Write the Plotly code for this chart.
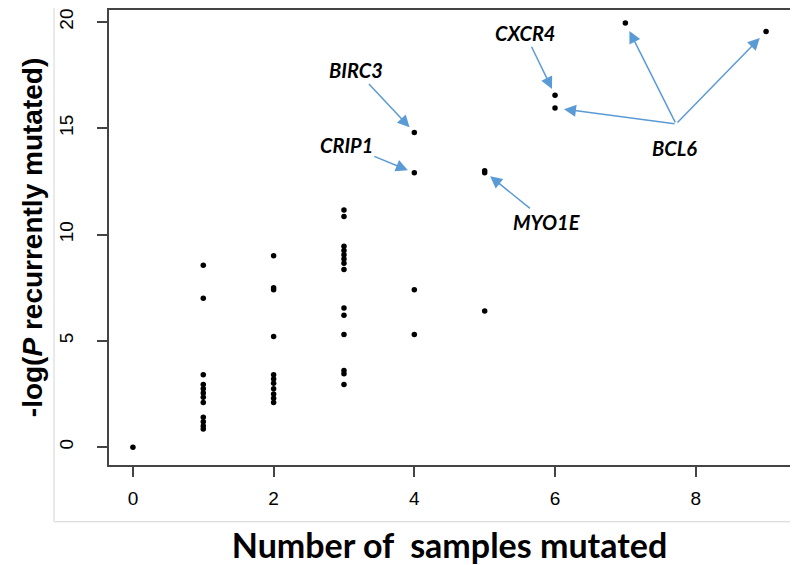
import plotly.graph_objects as go

# Data
samples_mutated = [0,
                   1, 1, 1, 1, 1, 1, 1, 1, 1, 1, 1, 1,
                   2, 2, 2, 2, 2, 2, 2, 2, 2, 2, 2,
                   3, 3, 3, 3, 3, 3, 3, 3, 3, 3, 3, 3, 3, 3,
                   4, 4, 4, 4,
                   5, 5, 5,
                   6, 6,
                   7,
                   9]
neg_log_p = [0.0,
             8.55, 7.0, 3.4, 2.95, 2.75, 2.55, 2.35, 2.1, 1.4, 1.2, 1.0, 0.85,
             9.0, 7.5, 7.4, 5.2, 3.4, 3.2, 3.0, 2.75, 2.5, 2.3, 2.1,
             11.15, 10.85, 9.45, 9.25, 9.05, 8.85, 8.65, 8.35, 6.55, 6.2, 5.3, 3.6, 3.45, 2.95,
             14.8, 12.9, 7.4, 5.3,
             13.0, 12.9, 6.4,
             16.55, 15.95,
             19.95,
             19.55]

x_ticks = [0, 2, 4, 6, 8]
y_ticks = [0, 5, 10, 15, 20]

# labelled genes: (name, x, y)
labels = [("BIRC3", 4, 14.8), ("CRIP1", 4, 12.9), ("MYO1E", 5, 12.95), ("CXCR4", 6, 16.55)]
bcl6_points = [(6, 15.95), (7, 19.95), (9, 19.55)]

ARROW = "#5B9BD5"

fig = go.Figure()
fig.add_trace(go.Scatter(
    x=samples_mutated, y=neg_log_p, mode="markers",
    marker=dict(color="black", size=5.5),
    hoverinfo="x+y", showlegend=False))

label_font = dict(family="Lato, Carlito, Arial", size=20, color="black")
offsets = {"BIRC3": (-58, -62), "CRIP1": (-68, -28), "MYO1E": (62, 50), "CXCR4": (-30, -62)}
for name, gx, gy in labels:
    ax, ay = offsets[name]
    fig.add_annotation(x=gx, y=gy, text=f"<b><i>{name}</i></b>", font=label_font,
                       showarrow=True, arrowhead=2, arrowsize=1.6, arrowwidth=1.5,
                       arrowcolor=ARROW, standoff=7, ax=ax, ay=ay)

bcl6_tail = (7.72, 15.2)
for gx, gy in bcl6_points:
    fig.add_annotation(x=gx, y=gy, text="", showarrow=True, arrowhead=2, arrowsize=1.6,
                       arrowwidth=1.5, arrowcolor=ARROW, standoff=9,
                       axref="x", ayref="y", ax=bcl6_tail[0], ay=bcl6_tail[1])
fig.add_annotation(x=7.7, y=14.05, text="<b><i>BCL6</i></b>", font=label_font, showarrow=False)

# light frame of the original screenshot (page px -> paper)
PW, PH = 681, 457
fig.add_shape(type="rect", xref="paper", yref="paper",
              x0=(54 - 109) / PW, x1=(797 - 109) / PW,
              y0=(465 - 522) / PH, y1=(465 - 8) / PH + 0.02,
              line=dict(color="#d4d4d4", width=1), fillcolor="rgba(0,0,0,0)", layer="below")

axis_common = dict(showgrid=False, zeroline=False, showline=True, linecolor="#444444",
                   linewidth=2, mirror=True, ticks="outside", ticklen=10, tickwidth=1.5,
                   tickcolor="#444444",
                   tickfont=dict(family="Liberation Sans, Arial", size=19, color="black"))

fig.update_layout(
    width=798, height=565,
    margin=dict(l=101, r=16, t=0, b=108),
    paper_bgcolor="white", plot_bgcolor="white",
    xaxis=dict(range=[-0.34, 9.34], tickvals=x_ticks, ticktext=[str(v) for v in x_ticks],
               title=dict(text="<b>Number of  samples mutated</b>", standoff=26,
                          font=dict(family="Lato, Carlito, Arial", size=34, color="black")),
               ticklabelstandoff=5, **axis_common),
    yaxis=dict(range=[-0.84, 20.56], tickvals=y_ticks, ticktext=[str(v) for v in y_ticks],
               tickangle=-90, ticklabelstandoff=16,
               title=dict(text="<b>-log(<i>P</i> recurrently mutated)</b>", standoff=6,
                          font=dict(family="Liberation Sans, Arial", size=28, color="black")),
               **axis_common),
)

fig.write_html("out.html")
